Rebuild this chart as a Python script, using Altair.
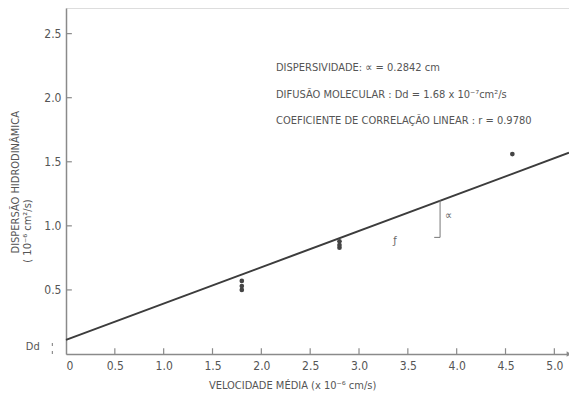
import altair as alt
import pandas as pd

# measured points (x: velocidade média, y: dispersão hidrodinâmica)
pts_x = [1.8, 1.8, 1.8, 2.8, 2.8, 2.8, 4.57]
pts_y = [0.50, 0.53, 0.57, 0.83, 0.85, 0.88, 1.56]

# fitted line end points
line_x = [0.0, 5.15]
line_y = [0.11, 1.57]

x_ticks = [0.5, 1.0, 1.5, 2.0, 2.5, 3.0, 3.5, 4.0, 4.5, 5.0]
y_ticks = [0.5, 1.0, 1.5, 2.0, 2.5]

notes = [
    "DISPERSIVIDADE:   \u221d = 0.2842 cm",
    "DIFUSÃO MOLECULAR : Dd = 1.68 x 10\u207b\u2077cm\u00b2/s",
    "COEFICIENTE DE CORRELAÇÃO LINEAR : r = 0.9780",
]
notes_y = [2.23, 2.02, 1.82]
notes_x = [2.15, 2.15, 2.15]

FONT = "Liberation Sans Narrow, DejaVu Sans Condensed, sans-serif"
INK = "#555555"
AX = "#8a8a8a"

XS = alt.Scale(domain=[0, 5.15], nice=False, zero=False)
YS = alt.Scale(domain=[0, 2.7], nice=False, zero=False)

pts = pd.DataFrame({"x": pts_x, "y": pts_y})
ln = pd.DataFrame({"x": line_x, "y": line_y})

base_axes = alt.Chart(pd.DataFrame({"x": [0, 5.15], "y": [0, 2.7]})).mark_point(opacity=0).encode(
    x=alt.X("x:Q", scale=XS, axis=alt.Axis(values=[0] + x_ticks, ticks=False, grid=False, title=None,
        labelExpr="datum.value == 0 ? '0' : format(datum.value, '.1f')",
        domainColor=AX, domainWidth=1.5, labelColor=INK, labelFont=FONT, labelFontSize=12, labelPadding=6)),
    y=alt.Y("y:Q", scale=YS, axis=alt.Axis(values=y_ticks, ticks=False, grid=False, title=None, format=".1f",
        domainColor=AX, domainWidth=1.5, labelColor=INK, labelFont=FONT, labelFontSize=12, labelPadding=5)),
)

xt = pd.DataFrame({"x": x_ticks, "y0": [0.0] * len(x_ticks), "y1": [0.045] * len(x_ticks)})
xtick = alt.Chart(xt).mark_rule(color=AX, strokeWidth=1.2).encode(
    x=alt.X("x:Q", scale=XS), y=alt.Y("y0:Q", scale=YS), y2="y1:Q")
yt = pd.DataFrame({"y": y_ticks, "x0": [0.0] * len(y_ticks), "x1": [0.06] * len(y_ticks)})
ytick = alt.Chart(yt).mark_rule(color=AX, strokeWidth=1.2).encode(
    y=alt.Y("y:Q", scale=YS), x=alt.X("x0:Q", scale=XS), x2="x1:Q")

arrow = alt.Chart(pd.DataFrame({"x": [5.15], "y": [0.0]})).mark_point(
    shape="triangle-right", filled=True, color=AX, size=30, opacity=1).encode(
    x=alt.X("x:Q", scale=XS), y=alt.Y("y:Q", scale=YS))

line = alt.Chart(ln).mark_line(color="#3c3c3c", strokeWidth=2).encode(
    x=alt.X("x:Q", scale=XS), y=alt.Y("y:Q", scale=YS))

points = alt.Chart(pts).mark_circle(color="#444444", size=22, opacity=1).encode(
    x=alt.X("x:Q", scale=XS), y=alt.Y("y:Q", scale=YS))

nt = pd.DataFrame({"x": notes_x, "y": notes_y, "t": notes})
note_text = alt.Chart(nt).mark_text(align="left", baseline="middle", font=FONT, fontSize=11, color=INK).encode(
    x=alt.X("x:Q", scale=XS), y=alt.Y("y:Q", scale=YS), text="t:N")

# alpha bracket
ab = pd.DataFrame({"x": [3.83], "y0": [0.91], "y1": [1.20]})
abr = alt.Chart(ab).mark_rule(color="#777777", strokeWidth=1).encode(
    x=alt.X("x:Q", scale=XS), y=alt.Y("y0:Q", scale=YS), y2="y1:Q")
ab2 = pd.DataFrame({"x0": [3.77], "x1": [3.83], "y": [0.91]})
abr2 = alt.Chart(ab2).mark_rule(color="#777777", strokeWidth=1).encode(
    x=alt.X("x0:Q", scale=XS), x2="x1:Q", y=alt.Y("y:Q", scale=YS))

small = pd.DataFrame({"x": [3.88, 3.35], "y": [1.08, 0.88], "t": ["\u221d", "\u0192"]})
small_text = alt.Chart(small).mark_text(align="left", baseline="middle", font=FONT, fontSize=11, color="#666666").encode(
    x=alt.X("x:Q", scale=XS), y=alt.Y("y:Q", scale=YS), text="t:N")

# Dd bracket on the y axis
dd = pd.DataFrame({"x": [-0.14], "y0": [0.0], "y1": [0.11]})
ddr = alt.Chart(dd).mark_rule(color="#777777", strokeWidth=1, strokeDash=[3, 5]).encode(
    x=alt.X("x:Q", scale=XS), y=alt.Y("y0:Q", scale=YS), y2="y1:Q")
ddt = alt.Chart(pd.DataFrame({"x": [-0.34], "y": [0.055], "t": ["Dd"]})).mark_text(
    font=FONT, fontSize=11, color=INK, baseline="middle").encode(
    x=alt.X("x:Q", scale=XS), y=alt.Y("y:Q", scale=YS), text="t:N")

# axis titles
titles = pd.DataFrame({
    "x": [2.32],
    "y": [-0.25],
    "t": ["VELOCIDADE  MÉDIA (x 10\u207b\u2076 cm/s)"],
})
xtitle = alt.Chart(titles).mark_text(font=FONT, fontSize=11, color=INK, baseline="middle").encode(
    x=alt.X("x:Q", scale=XS), y=alt.Y("y:Q", scale=YS), text="t:N")

yt1 = pd.DataFrame({"x": [-0.51, -0.39], "y": [1.34, 0.96],
                    "t": ["DISPERSÃO HIDRODINÂMICA", "( 10\u207b\u2076 cm\u00b2/s)"]})
ytitle = alt.Chart(yt1).mark_text(font=FONT, fontSize=11, color=INK, baseline="middle", angle=270).encode(
    x=alt.X("x:Q", scale=XS), y=alt.Y("y:Q", scale=YS), text="t:N")

chart = alt.layer(
    base_axes, xtick, ytick, arrow, line, points, note_text, abr, abr2, small_text,
    ddr, ddt, xtitle, ytitle,
).properties(
    width=503, height=346,
    padding={"left": 58, "top": 0, "right": 0, "bottom": 37},
    autosize="none",
).configure_view(stroke=None).configure(background="white")

chart.save("out.html", embed_options={"renderer": "svg", "actions": False})
